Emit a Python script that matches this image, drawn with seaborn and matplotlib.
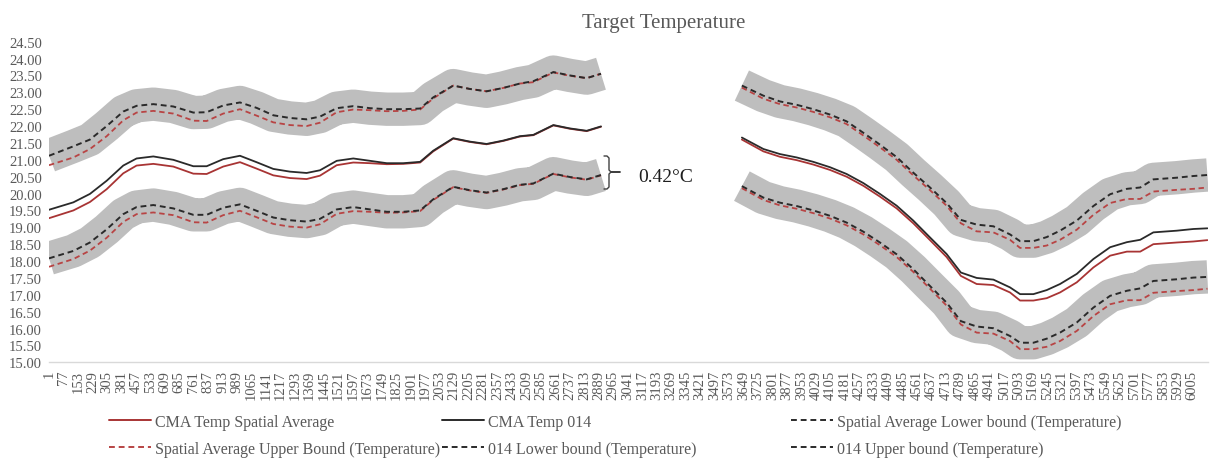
import numpy as np
import matplotlib
matplotlib.use("Agg")
import matplotlib.pyplot as plt
from matplotlib.lines import Line2D
import seaborn as sns

# ---------------- data ----------------
LEFT_IDX = [1, 129, 216, 304, 391, 461, 549, 654, 759, 829, 916, 1004, 1091, 1179,
            1266, 1354, 1424, 1512, 1599, 1687, 1775, 1862, 1950, 2019, 2124, 2211,
            2299, 2387, 2474, 2545, 2650, 2737, 2825, 2900]
RIGHT_IDX = [3640, 3753, 3840, 3928, 4015, 4103, 4190, 4278, 4365, 4453, 4540, 4628,
             4715, 4790, 4873, 4961, 5048, 5101, 5171, 5241, 5311, 5399, 5486, 5574,
             5662, 5732, 5801, 5924, 6011, 6085]

# CMA Temp Spatial Average
SA_LEFT = [19.27, 19.50, 19.75, 20.13, 20.60, 20.83, 20.88, 20.80, 20.59, 20.58, 20.80,
           20.93, 20.74, 20.54, 20.46, 20.43, 20.53, 20.84, 20.92, 20.90, 20.87, 20.88,
           20.92, 21.25, 21.63, 21.53, 21.46, 21.56, 21.69, 21.73, 22.02, 21.92, 21.85, 21.98]
SA_RIGHT = [21.60, 21.25, 21.09, 20.99, 20.86, 20.70, 20.50, 20.23, 19.91, 19.56, 19.12,
            18.62, 18.12, 17.56, 17.32, 17.29, 17.07, 16.83, 16.83, 16.90, 17.07, 17.37,
            17.81, 18.16, 18.28, 18.28, 18.50, 18.55, 18.58, 18.62]
# CMA Temp 014
T014_LEFT = [19.52, 19.74, 19.99, 20.38, 20.83, 21.04, 21.10, 21.00, 20.81, 20.81, 21.02,
             21.12, 20.93, 20.73, 20.65, 20.61, 20.69, 20.97, 21.04, 20.97, 20.90, 20.90,
             20.94, 21.27, 21.64, 21.54, 21.47, 21.57, 21.70, 21.74, 22.03, 21.93, 21.86, 21.99]
T014_RIGHT = [21.66, 21.32, 21.17, 21.07, 20.94, 20.78, 20.58, 20.31, 19.99, 19.64, 19.20,
              18.70, 18.21, 17.66, 17.50, 17.45, 17.22, 17.02, 17.02, 17.14, 17.32, 17.62,
              18.06, 18.41, 18.56, 18.63, 18.85, 18.90, 18.95, 18.97]
# Spatial Average Upper Bound
SA_UP_LEFT = [20.84, 21.07, 21.32, 21.70, 22.17, 22.40, 22.45, 22.37, 22.16, 22.15, 22.37,
              22.50, 22.31, 22.11, 22.03, 22.00, 22.10, 22.41, 22.49, 22.47, 22.44, 22.45,
              22.49, 22.82, 23.20, 23.10, 23.03, 23.13, 23.26, 23.30, 23.59, 23.49, 23.42, 23.55]
SA_UP_RIGHT = [23.14, 22.81, 22.65, 22.55, 22.42, 22.26, 22.06, 21.72, 21.37, 21.00, 20.54,
               20.10, 19.64, 19.12, 18.88, 18.85, 18.63, 18.39, 18.39, 18.46, 18.63, 18.93,
               19.37, 19.72, 19.84, 19.84, 20.06, 20.11, 20.14, 20.18]
# Spatial Average Lower bound
SA_LO_LEFT = [17.83, 18.06, 18.31, 18.69, 19.16, 19.39, 19.44, 19.36, 19.15, 19.14, 19.36,
              19.49, 19.30, 19.10, 19.02, 18.99, 19.09, 19.40, 19.48, 19.46, 19.43, 19.44,
              19.48, 19.81, 20.19, 20.09, 20.02, 20.12, 20.25, 20.29, 20.58, 20.48, 20.41, 20.54]
SA_LO_RIGHT = [20.16, 19.81, 19.65, 19.55, 19.42, 19.26, 19.06, 18.79, 18.47, 18.12, 17.68,
               17.18, 16.68, 16.12, 15.88, 15.85, 15.63, 15.39, 15.39, 15.46, 15.63, 15.93,
               16.37, 16.72, 16.84, 16.84, 17.06, 17.11, 17.14, 17.18]
# 014 Upper bound
U014_LEFT = [21.12, 21.40, 21.60, 22.00, 22.43, 22.60, 22.65, 22.58, 22.40, 22.41, 22.61,
             22.70, 22.54, 22.32, 22.24, 22.20, 22.28, 22.53, 22.59, 22.53, 22.50, 22.50,
             22.52, 22.85, 23.20, 23.10, 23.03, 23.13, 23.26, 23.33, 23.60, 23.50, 23.42, 23.55]
U014_RIGHT = [23.20, 22.90, 22.73, 22.63, 22.50, 22.34, 22.14, 21.80, 21.45, 21.08, 20.62,
              20.18, 19.72, 19.22, 19.08, 19.03, 18.79, 18.59, 18.59, 18.71, 18.90, 19.20,
              19.63, 19.98, 20.14, 20.18, 20.42, 20.47, 20.52, 20.55]
# 014 Lower bound
L014_LEFT = [18.08, 18.30, 18.55, 18.94, 19.39, 19.60, 19.66, 19.56, 19.37, 19.37, 19.58,
             19.68, 19.49, 19.29, 19.21, 19.17, 19.25, 19.53, 19.60, 19.53, 19.46, 19.46,
             19.50, 19.83, 20.20, 20.10, 20.03, 20.13, 20.26, 20.30, 20.59, 20.49, 20.42, 20.55]
L014_RIGHT = [20.22, 19.88, 19.73, 19.63, 19.50, 19.34, 19.14, 18.87, 18.55, 18.20, 17.76,
              17.26, 16.77, 16.22, 16.06, 16.01, 15.78, 15.58, 15.58, 15.70, 15.88, 16.18,
              16.62, 16.97, 17.12, 17.19, 17.41, 17.46, 17.51, 17.53]

X_TICKS = list(range(1, 6006, 76))
Y_TICKS = [15.0 + 0.5 * k for k in range(20)]

TITLE = "Target Temperature"
NOTE = "0.42°C"
LABELS = {
    "sa": "CMA Temp Spatial Average",
    "t014": "CMA Temp 014",
    "sa_lo": "Spatial Average Lower bound (Temperature)",
    "sa_up": "Spatial Average Upper Bound (Temperature)",
    "l014": "014 Lower bound (Temperature)",
    "u014": "014 Upper bound (Temperature)",
}

# ---------------- style ----------------
sns.set_style("white")
plt.rcParams["font.family"] = ["Liberation Serif", "DejaVu Serif"]

RED = "#A83434"
RED_DASH = "#B84444"
BLACK = "#2A2A2A"
BAND = "#BEBEBE"
TXT = "#595959"
DASH = (0, (3, 2))

W, H = 1211, 460
fig = plt.figure(figsize=(W / 100, H / 100), dpi=100)
y_bot, y_top = 363.3, 42.7
ax = fig.add_axes([49 / W, (H - y_bot) / H, (1208 - 49) / W, (y_bot - y_top) / H])


def line(idx, vals, **kw):
    sns.lineplot(x=idx, y=vals, ax=ax, estimator=None, sort=False, legend=False, **kw)


for idx, up, lo in [(LEFT_IDX, U014_LEFT, L014_LEFT), (RIGHT_IDX, U014_RIGHT, L014_RIGHT)]:
    for v in (up, lo):
        line(idx, v, color=BAND, linewidth=24, solid_capstyle="butt",
             solid_joinstyle="round", zorder=1)

for idx, sa_up, sa_lo, u, l in [
    (LEFT_IDX, SA_UP_LEFT, SA_LO_LEFT, U014_LEFT, L014_LEFT),
    (RIGHT_IDX, SA_UP_RIGHT, SA_LO_RIGHT, U014_RIGHT, L014_RIGHT),
]:
    line(idx, sa_up, color=RED_DASH, linewidth=1.3, linestyle=DASH, zorder=2)
    line(idx, sa_lo, color=RED_DASH, linewidth=1.3, linestyle=DASH, zorder=2)
    line(idx, u, color=BLACK, linewidth=1.4, linestyle=DASH, zorder=3)
    line(idx, l, color=BLACK, linewidth=1.4, linestyle=DASH, zorder=3)

for idx, sa, t in [(LEFT_IDX, SA_LEFT, T014_LEFT), (RIGHT_IDX, SA_RIGHT, T014_RIGHT)]:
    line(idx, sa, color=RED, linewidth=1.3, zorder=4)
    line(idx, t, color=BLACK, linewidth=1.3, zorder=5)

ax.set_xlim(1, 6088)
ax.set_ylim(15, 24.5)
ax.set_xticks(X_TICKS)
ax.set_xticklabels([str(t) for t in X_TICKS], rotation=90, fontsize=10.5, color=TXT)
ax.set_yticks(Y_TICKS)
ax.set_yticklabels([f"{t:.2f}" for t in Y_TICKS], fontsize=10.5, color=TXT)
ax.tick_params(axis="x", length=0, pad=5.5)
ax.tick_params(axis="y", length=0, pad=5)
ax.set_xlabel("")
ax.set_ylabel("")
ax.grid(False)
for s in ("top", "right", "left"):
    ax.spines[s].set_visible(False)
ax.spines["bottom"].set_color("#D9D9D9")
ax.spines["bottom"].set_linewidth(1.0)

# title
fig.text(664 / W, 1 - 28 / H, TITLE, ha="center", va="baseline", fontsize=15, color=TXT)

# bracket + annotation (pixel geometry of the annotation)
bx = [604, 607, 609, 609, 611, 620, 611, 609, 609, 607, 604]
by = [157, 157, 159, 171, 173, 173, 173, 175, 188, 190, 190]
fig.add_artist(Line2D([x / W for x in bx], [1 - y / H for y in by],
                      transform=fig.transFigure, color="#404040", lw=1.0))
fig.text(638 / W, 1 - 178 / H, NOTE, ha="left", va="center", fontsize=14, color="#1E1E1E")

# legend (three columns as in the reference)
def h(color, ls="-", lw=1.4):
    return Line2D([], [], color=color, linestyle=ls, linewidth=lw)

cols = [
    (109, [h(RED), h(RED_DASH, DASH)], [LABELS["sa"], LABELS["sa_up"]]),
    (442, [h(BLACK), h(BLACK, DASH)], [LABELS["t014"], LABELS["l014"]]),
    (791, [h(BLACK, DASH), h(BLACK, DASH)], [LABELS["sa_lo"], LABELS["u014"]]),
]
for x0, hs, ls in cols:
    leg = fig.legend(hs, ls, loc="upper left", bbox_to_anchor=(x0 / W, 1 - 415 / H),
                     frameon=False, fontsize=11.5, handlelength=2.6, handletextpad=0.25,
                     labelspacing=0.68, borderpad=0, borderaxespad=0)
    for t in leg.get_texts():
        t.set_color(TXT)

fig.savefig("out.png", dpi=100, facecolor="white")
